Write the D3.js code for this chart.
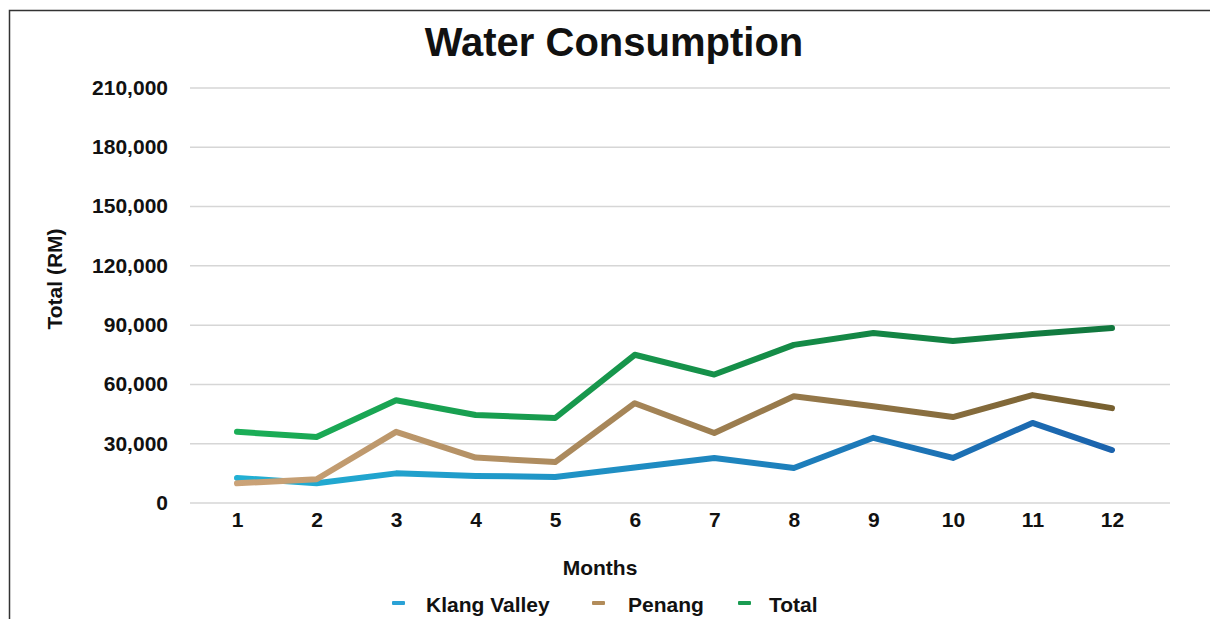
<!DOCTYPE html>
<html>
<head>
<meta charset="utf-8">
<script src="https://cdn.jsdelivr.net/npm/d3@7"></script>
<style>
  html, body { margin: 0; padding: 0; background: #ffffff; }
  svg { display: block; }
  text { font-family: "Liberation Sans", Arial, Helvetica, sans-serif; font-weight: bold; fill: #111; }
</style>
</head>
<body>
<svg id="chart" width="1210" height="619"></svg>
<script>
const months = [1, 2, 3, 4, 5, 6, 7, 8, 9, 10, 11, 12];
const klangValley = [12700, 10000, 15000, 13700, 13200, 18000, 22800, 17700, 33000, 22800, 40500, 26800];
const penang = [10000, 12000, 36000, 23000, 20700, 50500, 35400, 54000, 49000, 43500, 54600, 48000];
const total = [36000, 33400, 52000, 44500, 43000, 75000, 65000, 80000, 86000, 82000, 85500, 88500];
const yTicks = [0, 30000, 60000, 90000, 120000, 150000, 180000, 210000];
const seriesNames = ["Klang Valley", "Penang", "Total"];

const svg = d3.select("#chart");

// frame
svg.append("path")
  .attr("d", "M9.5,619 L9.5,10.5 L1210,10.5")
  .attr("fill", "none").attr("stroke", "#333").attr("stroke-width", 1.5);

const x = d3.scalePoint().domain(months).range([237, 1112]);
const y = d3.scaleLinear().domain([0, 210000]).range([503, 88]);

// gridlines
svg.append("g").selectAll("line").data(yTicks).join("line")
  .attr("x1", 190).attr("x2", 1170)
  .attr("y1", d => y(d)).attr("y2", d => y(d))
  .attr("stroke", "#d6d6d6").attr("stroke-width", 1.5);

// y axis labels
const yAxis = d3.axisLeft(y).tickValues(yTicks).tickFormat(d3.format(",")).tickSize(0).tickPadding(0);
const gy = svg.append("g").attr("transform", "translate(168,0)").call(yAxis);
gy.select(".domain").remove();
gy.selectAll("text").attr("font-size", 21).attr("font-family", null).attr("dy", "0.3em");

// x axis labels
const xAxis = d3.axisBottom(x).tickSize(0).tickPadding(0);
const gx = svg.append("g").attr("transform", "translate(0,527)").call(xAxis);
gx.select(".domain").remove();
gx.selectAll("text").attr("font-size", 21).attr("font-family", null).attr("dy", 0);

// gradients
const defs = svg.append("defs");
const grads = [
  ["gKV", "#22b0d4", "#1b63ad"],
  ["gPN", "#cba378", "#776030"],
  ["gTT", "#1bae57", "#11773e"]
];
grads.forEach(([id, c1, c2]) => {
  const g = defs.append("linearGradient").attr("id", id)
    .attr("gradientUnits", "userSpaceOnUse")
    .attr("x1", x(1)).attr("x2", x(12)).attr("y1", 0).attr("y2", 0);
  g.append("stop").attr("offset", 0).attr("stop-color", c1);
  g.append("stop").attr("offset", 1).attr("stop-color", c2);
});

const line = d3.line().x((d, i) => x(months[i])).y(d => y(d));
const series = [
  [klangValley, "url(#gKV)"],
  [penang, "url(#gPN)"],
  [total, "url(#gTT)"]
];
series.forEach(([data, stroke]) => {
  svg.append("path").datum(data)
    .attr("d", line)
    .attr("fill", "none")
    .attr("stroke", stroke)
    .attr("stroke-width", 6)
    .attr("stroke-linejoin", "round")
    .attr("stroke-linecap", "round");
});

// title
svg.append("text").attr("x", 614).attr("y", 56).attr("text-anchor", "middle")
  .attr("font-size", 40).text("Water Consumption");

// axis titles
svg.append("text").attr("x", 600).attr("y", 575).attr("text-anchor", "middle")
  .attr("font-size", 21).text("Months");
svg.append("text").attr("transform", "translate(62,279) rotate(-90)").attr("text-anchor", "middle")
  .attr("font-size", 21).text("Total (RM)");

// legend
const legendColors = ["#2aa2d6", "#b28c5a", "#1a9c52"];
const legendX = [392, 592, 738];
const lg = svg.append("g").selectAll("g").data(seriesNames).join("g")
  .attr("transform", (d, i) => `translate(${legendX[i]},0)`);
lg.append("rect").attr("x", 0).attr("y", 601).attr("width", 13).attr("height", 4).attr("rx", 1)
  .attr("fill", (d, i) => legendColors[i]);
lg.append("text").attr("x", (d, i) => [34, 36, 31][i]).attr("y", 612).attr("font-size", 21).text(d => d);
</script>
</body>
</html>
